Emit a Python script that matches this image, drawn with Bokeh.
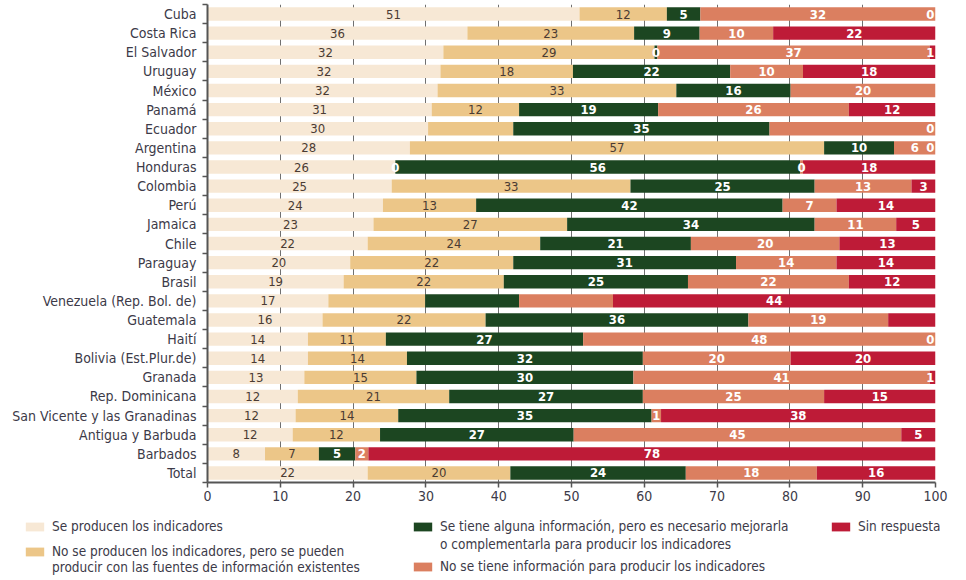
from bokeh.plotting import figure
from bokeh.models import ColumnDataSource, FixedTicker, Legend, LegendItem
from bokeh.core.properties import value
from bokeh.embed import file_html
from bokeh.resources import INLINE

paises = ["Cuba", "Costa Rica", "El Salvador", "Uruguay", "México", "Panamá",
          "Ecuador", "Argentina", "Honduras", "Colombia", "Perú", "Jamaica",
          "Chile", "Paraguay", "Brasil", "Venezuela (Rep. Bol. de)", "Guatemala",
          "Haití", "Bolivia (Est.Plur.de)", "Granada", "Rep. Dominicana",
          "San Vicente y las Granadinas", "Antigua y Barbuda", "Barbados", "Total"]

se_producen = [51.1, 35.7, 32.4, 32.0, 31.6, 30.8, 30.3, 27.8, 25.8, 25.3, 24.1, 22.8,
               22.0, 19.6, 18.7, 16.6, 15.8, 13.8, 13.8, 13.3, 12.4, 12.1, 11.7, 7.9, 22.0]
se_pueden = [12.0, 22.9, 29.0, 18.2, 32.8, 12.0, 11.7, 56.9, 0.0, 32.8, 12.8, 26.6,
             23.7, 22.4, 22.0, 13.3, 22.4, 10.7, 13.6, 15.4, 20.8, 14.1, 12.0, 7.4, 19.6]
mejorar = [4.6, 9.0, 0.4, 21.6, 15.7, 19.1, 35.2, 9.6, 55.6, 25.3, 42.1, 34.0,
           20.7, 30.6, 25.3, 12.9, 36.1, 27.1, 32.4, 29.8, 26.6, 34.8, 26.6, 5.0, 24.1]
sin_info = [32.3, 10.1, 37.4, 10.0, 19.9, 26.2, 22.8, 5.7, 0.4, 13.3, 7.4, 11.2,
            20.4, 13.8, 22.1, 12.9, 19.2, 48.4, 20.3, 40.7, 24.9, 1.3, 45.0, 1.8, 18.0]
sin_respuesta = [0.0, 22.3, 0.8, 18.2, 0.0, 11.9, 0.0, 0.0, 18.2, 3.3, 13.6, 5.4,
                 13.2, 13.6, 11.9, 44.3, 6.5, 0.0, 19.9, 0.8, 15.3, 37.7, 4.7, 77.9, 16.3]

# segments printed without a value label in the original
sin_etiqueta = {("México", 4), ("Ecuador", 1), ("Ecuador", 3), ("Venezuela (Rep. Bol. de)", 1),
                ("Venezuela (Rep. Bol. de)", 2), ("Venezuela (Rep. Bol. de)", 3),
                ("Guatemala", 4)}

# legend texts (one list per legend entry, one string per printed line)
categorias = [["Se producen los indicadores"],
              ["No se producen los indicadores, pero se pueden",
               "producir con las fuentes de información existentes"],
              ["Se tiene alguna información, pero es necesario mejorarla",
               "o complementarla para producir los indicadores"],
              ["No se tiene información para producir los indicadores"],
              ["Sin respuesta"]]
colores = ["#f7e8d5", "#ecc688", "#1c4621", "#db7f60", "#be1b37"]

FONT = "DejaVu Sans Condensed, Liberation Sans Narrow, sans-serif"
TXT = "#3c3a48"

series = [se_producen, se_pueden, mejorar, sin_info, sin_respuesta]
n = len(paises)
ys = [n - 1 - i for i in range(n)]

p = figure(width=950, height=510, x_range=(0, 100), y_range=(-0.5, n - 0.5),
           output_backend="svg", toolbar_location=None,
           min_border_left=207, min_border_right=15, min_border_top=4, min_border_bottom=28)
p.outline_line_color = None
p.background_fill_color = "white"

# legend panel below the chart (its own figure, so the legend is not clipped)
q = figure(width=950, height=66, x_range=(0, 100), y_range=(0, 1),
           output_backend="svg", toolbar_location=None,
           x_axis_type=None, y_axis_type=None,
           min_border_left=0, min_border_right=0, min_border_top=0, min_border_bottom=0)
q.outline_line_color = None
q.grid.visible = False

left = [0.0] * n
leg_r = []
dark = dict(x=[], y=[], t=[])
light = dict(x=[], y=[], t=[])
for k, vals in enumerate(series):
    right = [l + v for l, v in zip(left, vals)]
    src = ColumnDataSource(dict(y=ys, left=left, right=right))
    p.hbar(y="y", left="left", right="right", height=0.7, source=src,
           fill_color=colores[k], line_color=None)
    leg_r.append(q.hbar(y="y", left="left", right="right", height=0.7, source=src,
                        fill_color=colores[k], line_color=None, visible=False))
    for i in range(n):
        if (paises[i], k) in sin_etiqueta:
            continue
        v = vals[i]
        mid = min((left[i] + right[i]) / 2, 99.3)
        d = dark if (k < 2 and v > 0) else light
        d["x"].append(mid)
        d["y"].append(ys[i])
        d["t"].append(str(int(round(v))))
    left = right

p.text(x="x", y="y", text="t", source=ColumnDataSource(dark), text_font=value(FONT),
       text_font_size="13px", text_color="#4a3b33", text_align="center", text_baseline="middle")
p.text(x="x", y="y", text="t", source=ColumnDataSource(light), text_font=value(FONT),
       text_font_size="13px", text_font_style="bold", text_color="white",
       text_align="center", text_baseline="middle")

# axes
p.xaxis.ticker = FixedTicker(ticks=list(range(0, 101, 10)))
p.xgrid.ticker = FixedTicker(ticks=list(range(10, 101, 10)))
p.xgrid.grid_line_color = "#707070"
p.ygrid.visible = False
p.xaxis.axis_line_color = "#555555"
p.xaxis.axis_line_width = 2
p.xaxis.major_tick_line_color = "#555555"
p.xaxis.major_tick_line_width = 1.5
p.xaxis.major_tick_out = 5
p.xaxis.major_tick_in = 0
p.xaxis.minor_tick_line_color = None
p.xaxis.major_label_standoff = 3
p.xaxis.major_label_text_font = FONT
p.xaxis.major_label_text_font_size = "14px"
p.xaxis.major_label_text_color = TXT

p.yaxis.ticker = FixedTicker(ticks=ys, minor_ticks=[k + 0.5 for k in range(-1, n)])
p.yaxis.major_label_overrides = {y: name for y, name in zip(ys, paises)}
p.yaxis.axis_line_color = "#555555"
p.yaxis.axis_line_width = 2
p.yaxis.major_tick_line_color = None
p.yaxis.major_tick_out = 0
p.yaxis.major_tick_in = 0
p.yaxis.minor_tick_line_color = "#555555"
p.yaxis.minor_tick_line_width = 1.5
p.yaxis.minor_tick_out = 5
p.yaxis.minor_tick_in = 0
p.yaxis.major_label_standoff = 6
p.yaxis.major_label_text_font = FONT
p.yaxis.major_label_text_font_size = "14px"
p.yaxis.major_label_text_color = TXT

# legend entries: (column x in px, y of each line's box bottom in px from panel bottom)
leg_x = [23, 23, 411, 411, 829]
leg_y = [[42], [17, 1], [42, 24], [2], [42]]
for k in range(5):
    for j, line in enumerate(categorias[k]):
        first = (j == 0)
        lg = Legend(items=[LegendItem(label=line, renderers=[leg_r[k]])],
                    location=(leg_x[k], leg_y[k][j]), padding=0, margin=0, spacing=0,
                    glyph_width=23 if first else 0, glyph_height=11,
                    label_standoff=6 if first else 29, label_height=16,
                    border_line_color=None, background_fill_alpha=0,
                    inactive_fill_alpha=0,
                    label_text_font=FONT, label_text_font_size="13.5px",
                    label_text_color=TXT)
        q.add_layout(lg)

open("out.html", "w").write(file_html([p, q], INLINE))
